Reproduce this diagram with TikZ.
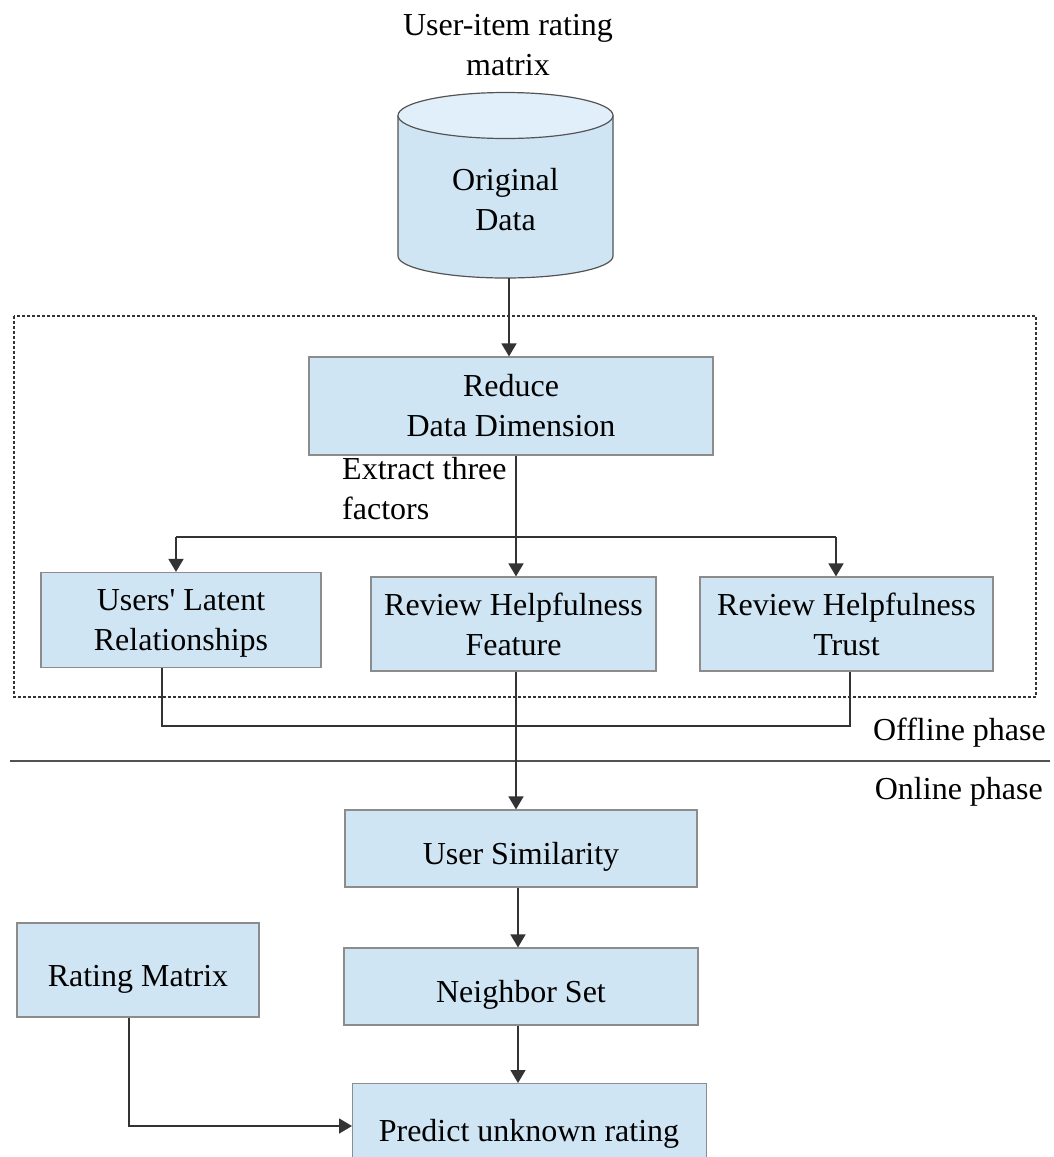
\documentclass[tikz,border=0pt]{standalone}
\usepackage{fontspec}
\setmainfont{Liberation Serif}
\usetikzlibrary{arrows.meta}
\definecolor{boxfill}{HTML}{D0E5F3}
\definecolor{boxline}{HTML}{8C8C8C}
\definecolor{topfill}{HTML}{E0EFF9}
\definecolor{wire}{HTML}{333333}
\begin{document}
\begin{tikzpicture}[x=1pt,y=1pt,
  every node/.style={font=\fontsize{32}{40}\selectfont},
  stage/.style={draw=boxline, line width=1.2pt, fill=boxfill, inner sep=0pt, align=center},
  oneline/.style={text height=32pt, text depth=0pt},
  conn/.style={draw=wire, line width=1.6pt},
  arr/.style={conn, -{Triangle[width=15pt,length=13pt]}},
  plain/.style={align=center, inner sep=0pt}]
\useasboundingbox (0,0) rectangle (1053,-1157);
\clip (0,0) rectangle (1053,-1157);

% caption above the data store
\node[plain] (cap) at (508,-45) {User-item rating\\matrix};

% data store drawn as a cylinder
\path[fill=boxfill] (398,-115.5) -- (398,-256)
  arc[start angle=180,end angle=360,x radius=107.5pt,y radius=22pt]
  -- (613,-115.5) -- cycle;
\draw[boxline!60!black, line width=1.2pt] (398,-115.5) -- (398,-256)
  arc[start angle=180,end angle=360,x radius=107.5pt,y radius=22pt]
  -- (613,-115.5);
\draw[boxline!60!black, line width=1.2pt, fill=topfill] (505.5,-115.5) ellipse[x radius=107.5pt,y radius=23pt];
\node[plain, minimum width=215pt, minimum height=186pt] (db) at (505.5,-185) {};
\node[plain] (dbtext) at (505.5,-200) {Original\\Data};

% offline region
\draw[wire, line width=1.3pt, dash pattern=on 3pt off 2pt] (14,-316) rectangle (1036,-697);

\node[stage, minimum width=404pt, minimum height=98pt] (reduce) at (511,-406) {Reduce\\Data Dimension};
\node[plain, align=left, anchor=west] (extract) at (342,-489) {Extract three\\factors};

\node[stage, minimum width=280pt, minimum height=95pt] (users) at (181,-620) {};
\node[plain] (userstext) at (181,-623) {Users\textquotesingle{} Latent\\Relationships};
\node[stage, minimum width=285pt, minimum height=94pt] (feat) at (513.5,-624) {Review Helpfulness\\Feature};
\node[stage, minimum width=293pt, minimum height=94pt] (trust) at (846.5,-624) {Review Helpfulness\\Trust};

% phase divider
\draw[wire!85!white, line width=2pt] (10,-761) -- (1050,-761);
\node[plain, anchor=east] (offline) at (1046,-733) {Offline phase};
\node[plain, anchor=east] (online) at (1043,-792) {Online phase};

% online stages
\node[stage, oneline, minimum width=352pt, minimum height=77pt] (usim) at (521,-848.5) {User Similarity};
\node[stage, oneline, minimum width=354pt, minimum height=77pt] (nset) at (521,-986.5) {Neighbor Set};
\node[stage, oneline, minimum width=242pt, minimum height=94pt] (rmat) at (138,-970) {Rating Matrix};
\node[stage, minimum width=354pt, minimum height=100pt, anchor=north west] (pred) at (352,-1083) {};
\node[plain] (predtext) at (529,-1134) {Predict unknown rating};

% junction points
\coordinate (b0) at (516,-537);
\coordinate (b1) at (176,-537);
\coordinate (b2) at (836,-537);
\coordinate (j1) at (162,-726);
\coordinate (j2) at (850,-726);
\coordinate (j3) at (129,-1126);
\coordinate (m1) at (516,0);
\coordinate (m2) at (518,0);

% connectors
\draw[arr] (db.south -| 509,0) -- (reduce.north -| 509,0);
\draw[arr] (reduce.south -| b0) -- (feat.north -| b0);
\draw[conn] (b1) -- (b2);
\draw[arr] (b1) -- (b1 |- users.north);
\draw[arr] (b2) -- (b2 |- trust.north);
\draw[conn] (j1 |- users.south) -- (j1) -- (j2) -- (j2 |- trust.south);
\draw[arr] (feat.south -| m1) -- (usim.north -| m1);
\draw[arr] (usim.south -| m2) -- (nset.north -| m2);
\draw[arr] (nset.south -| m2) -- (pred.north -| m2);
\draw[arr] (j3 |- rmat.south) -- (j3) -- (j3 -| pred.west);
\end{tikzpicture}
\end{document}
